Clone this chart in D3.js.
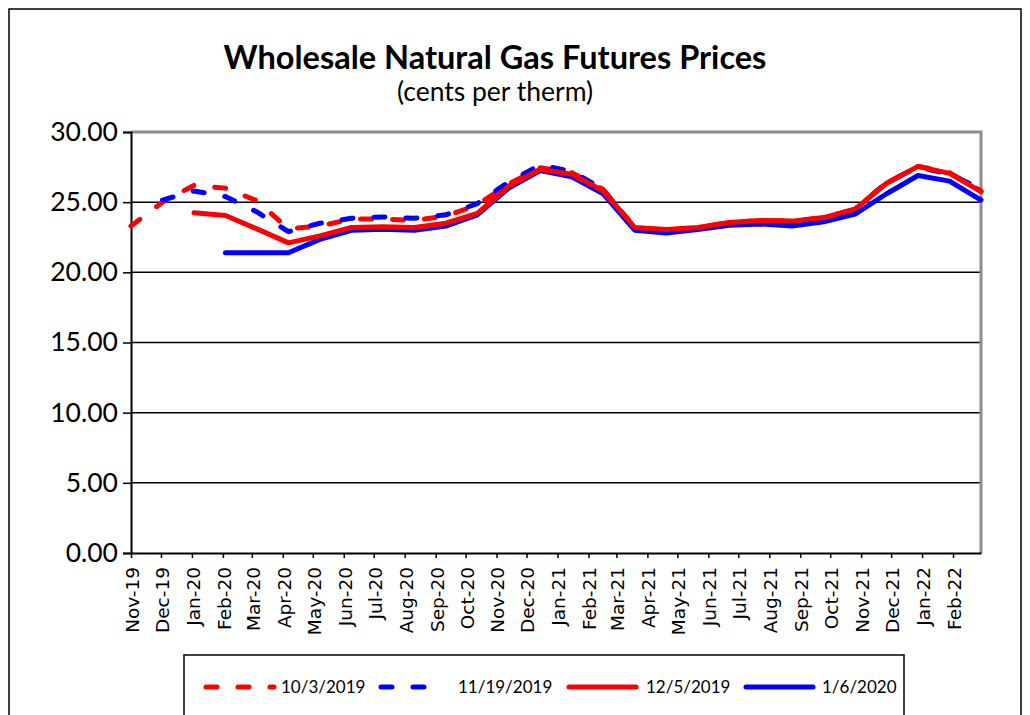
<!DOCTYPE html>
<html>
<head>
<meta charset="utf-8">
<script src="https://cdn.jsdelivr.net/npm/d3@7"></script>
<style>
  html, body { margin: 0; padding: 0; background: #fff; }
  svg { display: block; }
</style>
</head>
<body>
<svg id="chart" width="1030" height="715"></svg>
<script>
// ---- data ----
const categories = ["Nov-19","Dec-19","Jan-20","Feb-20","Mar-20","Apr-20","May-20","Jun-20","Jul-20","Aug-20","Sep-20","Oct-20","Nov-20","Dec-20",
  "Jan-21","Feb-21","Mar-21","Apr-21","May-21","Jun-21","Jul-21","Aug-21","Sep-21","Oct-21","Nov-21","Dec-21","Jan-22","Feb-22"];
const tickLabels = categories.slice();
const axisEndLabel = "Mar-22";

const seriesNames = ["10/3/2019", "11/19/2019", "12/5/2019", "1/6/2020"];
const s_10_3_2019 = [23.3,25.0,26.2,26.0,25.1,23.1,23.3,23.8,23.8,23.7,24.0,24.8,26.3,27.45,27.1,25.9,23.2,23.0,23.2,23.55,23.7,23.65,23.9,24.5,26.35,27.55,27.1,25.8];
const s_11_19_2019 = [null,25.15,25.8,25.4,24.3,22.9,23.5,23.85,23.95,23.85,24.1,24.9,26.45,27.65,27.2,25.9,23.1,22.95,23.15,23.5,23.65,23.6,23.85,24.5,26.4,27.5,27.0,25.95];
const s_12_5_2019 = [null,null,24.25,24.05,23.1,22.1,22.6,23.2,23.25,23.2,23.5,24.2,26.15,27.35,27.0,25.8,23.2,23.05,23.2,23.55,23.7,23.65,23.9,24.5,26.35,27.55,27.05,25.75];
const s_1_6_2020 = [null,null,null,21.4,21.4,21.4,22.35,23.0,23.07,23.0,23.3,24.1,26.0,27.25,26.8,25.6,23.0,22.8,23.05,23.35,23.45,23.3,23.6,24.15,25.6,26.9,26.5,25.15];
const yTicks = [0, 5, 10, 15, 20, 25, 30];

// ---- layout ----
const svg = d3.select("#chart");
const M = { left: 131, top: 132, right: 981, bottom: 553 };
const W = M.right - M.left, H = M.bottom - M.top;

// outer frame
svg.append("rect").attr("x", 9).attr("y", 9).attr("width", 1012).attr("height", 760)
  .attr("fill", "#fff").attr("stroke", "#000").attr("stroke-width", 1.5);

// title
svg.append("text").attr("x", 495).attr("y", 69).attr("text-anchor", "middle")
  .style("font-family", "Lato, sans-serif").style("font-weight", "bold").style("font-size", "32.5px")
  .text("Wholesale Natural Gas Futures Prices");
svg.append("text").attr("x", 495).attr("y", 101).attr("text-anchor", "middle")
  .style("font-family", "Lato, sans-serif").style("font-size", "26.5px")
  .text("(cents per therm)");

const g = svg.append("g").attr("transform", `translate(${M.left},${M.top})`);

const parseM = d3.timeParse("%b-%y");
const xAxisScale = d3.scaleTime().domain([parseM(tickLabels[0]), parseM(axisEndLabel)]).range([0, W]);
const xData = d3.scalePoint().domain(categories).range([0, W]);
const y = d3.scaleLinear().domain([0, 30]).range([H, 0]);

// gridlines
g.append("g").selectAll("line").data(yTicks.filter(d => d > 0 && d < 30)).join("line")
  .attr("x1", 0).attr("x2", W).attr("y1", d => y(d)).attr("y2", d => y(d))
  .attr("stroke", "#000").attr("stroke-width", 1.5);

// plot border top/right (gray)
g.append("path").attr("d", `M0,${y(30)}H${W}V${H}`).attr("fill", "none")
  .attr("stroke", "#8c8c8c").attr("stroke-width", 3);

// y axis
const yAxis = g.append("g").call(d3.axisLeft(y).tickValues(yTicks).tickSize(8).tickPadding(5).tickFormat(d3.format(".2f")));
yAxis.select(".domain").attr("stroke", "#000").attr("stroke-width", 2);
yAxis.selectAll(".tick line").attr("stroke", "#000").attr("stroke-width", 1.5);
yAxis.selectAll("text").style("font-family", "Lato, sans-serif").style("font-size", "26.5px").attr("fill", "#000");

// x axis
const xAxis = g.append("g").attr("transform", `translate(0,${H})`)
  .call(d3.axisBottom(xAxisScale).tickValues(tickLabels.map(parseM)).tickFormat(d3.timeFormat("%b-%y")).tickSize(5).tickSizeOuter(0));
xAxis.select(".domain").attr("stroke", "#000").attr("stroke-width", 2);
xAxis.selectAll(".tick line").attr("stroke", "#000").attr("stroke-width", 1.5);
xAxis.selectAll("text")
  .style("font-family", "'DejaVu Sans', sans-serif").style("font-size", "18.5px").attr("fill", "#000")
  .attr("transform", "rotate(-90)").attr("text-anchor", "end")
  .attr("x", -14).attr("y", 0).attr("dy", "0.4em");

// series
const series = [
  { name: seriesNames[0], values: s_10_3_2019, color: "#ff0000", dash: "11,21" },
  { name: seriesNames[1], values: s_11_19_2019, color: "#0000ff", dash: "11,21" },
  { name: seriesNames[2], values: s_12_5_2019, color: "#ff0000", dash: null },
  { name: seriesNames[3], values: s_1_6_2020, color: "#0000ff", dash: null }
];
const line = d3.line().defined(d => d.v != null).x(d => xData(d.c)).y(d => y(d.v));
const drawOrder = [0, 1, 3, 2];
drawOrder.forEach(i => {
  const s = series[i];
  g.append("path")
    .datum(categories.map((c, k) => ({ c, v: s.values[k] })))
    .attr("fill", "none").attr("stroke", s.color).attr("stroke-width", 5)
    .attr("stroke-linecap", "round").attr("stroke-linejoin", "round")
    .attr("stroke-dasharray", s.dash)
    .attr("d", line);
});

// legend
const lg = svg.append("g");
const legY = 687;
lg.append("rect").attr("x", 184).attr("y", 655).attr("width", 720).attr("height", 80)
  .attr("fill", "#fff").attr("stroke", "#000").attr("stroke-width", 1.5);
const legendPos = [
  { x1: 206, x2: 274, tx: 281 },
  { x1: 381, x2: 432, tx: 458 },
  { x1: 569, x2: 636, tx: 646 },
  { x1: 746, x2: 813, tx: 822 }
];
series.forEach((s, i) => {
  const p = legendPos[i];
  lg.append("line").attr("x1", p.x1).attr("x2", p.x2).attr("y1", legY).attr("y2", legY)
    .attr("stroke", s.color).attr("stroke-width", 5).attr("stroke-linecap", "round")
    .attr("stroke-dasharray", s.dash);
  lg.append("text").attr("x", p.tx).attr("y", legY).attr("dy", "0.35em")
    .style("font-family", "Lato, sans-serif").style("font-size", "17px").text(s.name);
});
</script>
</body>
</html>
